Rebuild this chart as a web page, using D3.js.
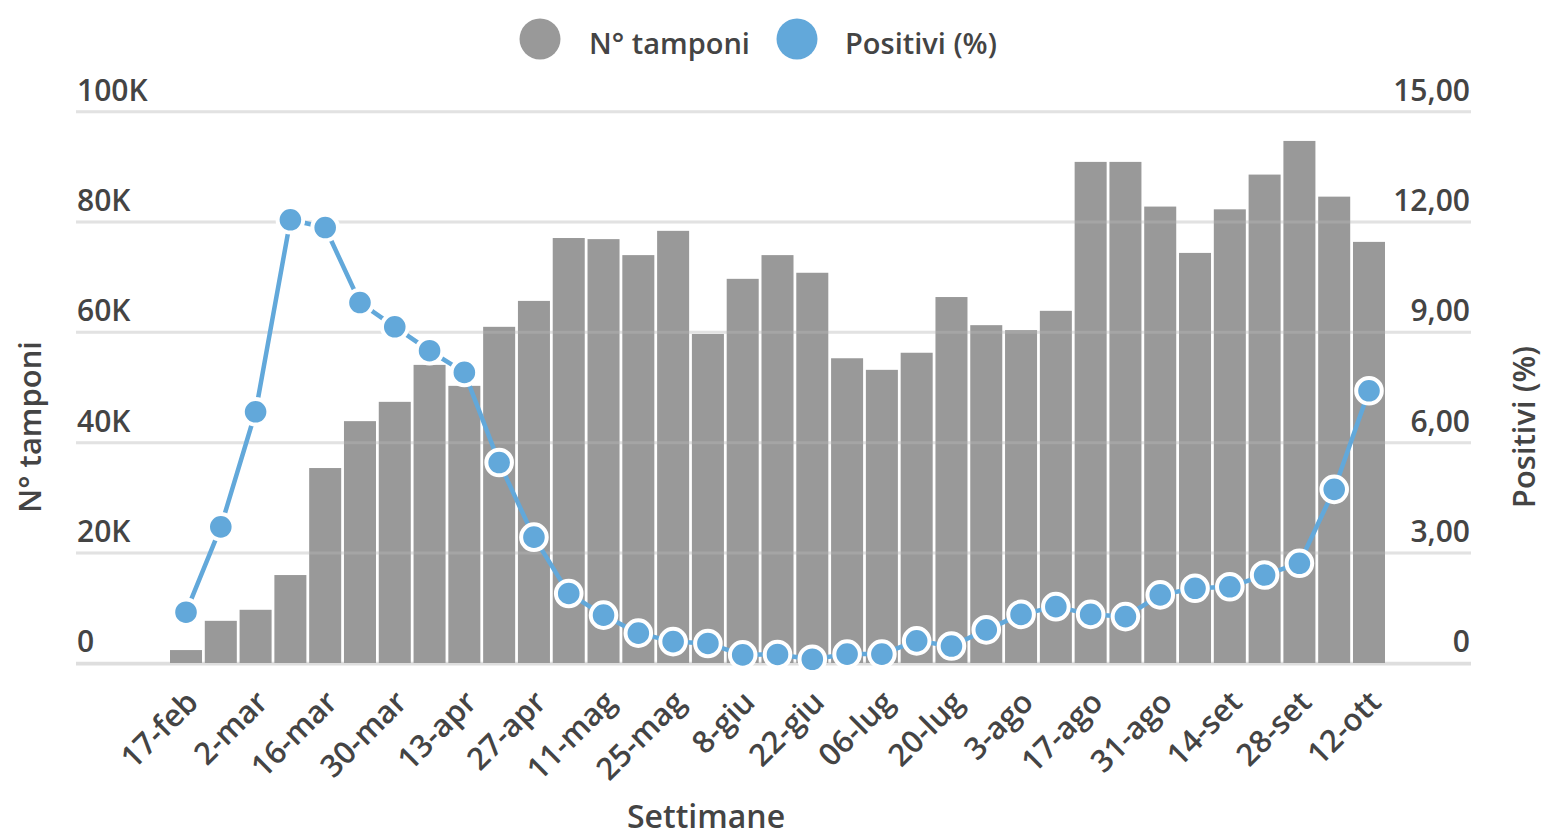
<!DOCTYPE html>
<html>
<head>
<meta charset="utf-8">
<script src="https://cdn.jsdelivr.net/npm/d3@7"></script>
<style>
  html, body { margin: 0; padding: 0; background: #fff; }
  svg text { font-family: "Open Sans", "Noto Sans", sans-serif; font-weight: 600; fill: #444; }
</style>
</head>
<body>
<svg id="chart" width="1558" height="839"></svg>
<script>
// ---- data ----
const weeks = ["17-feb","24-feb","2-mar","9-mar","16-mar","23-mar","30-mar","6-apr","13-apr","20-apr",
  "27-apr","4-mag","11-mag","18-mag","25-mag","1-giu","8-giu","15-giu","22-giu","29-giu",
  "06-lug","13-lug","20-lug","27-lug","3-ago","10-ago","17-ago","24-ago","31-ago","7-set",
  "14-set","21-set","28-set","5-ott","12-ott"];
const tamponi = [2400,7700,9700,16000,35400,43900,47400,54100,50300,61000,
  65700,77100,76900,74000,78400,59700,69700,74000,70800,55300,
  53200,56300,66400,61300,60400,63900,90900,90900,82800,74400,
  82300,88600,94700,84600,76400];
const positivi = [1.39,3.71,6.84,12.06,11.85,9.81,9.15,8.50,7.91,5.46,
  3.43,1.90,1.31,0.82,0.59,0.54,0.23,0.24,0.11,0.25,
  0.25,0.61,0.47,0.91,1.33,1.54,1.33,1.27,1.86,2.04,
  2.08,2.40,2.72,4.73,7.41];
const leftTicks = [0,20000,40000,60000,80000,100000];
const leftTickLabels = ["0","20K","40K","60K","80K","100K"];
const rightTicks = [0,3,6,9,12,15];
const rightTickLabels = ["0","3,00","6,00","9,00","12,00","15,00"];
const seriesNames = ["N° tamponi","Positivi (%)"];
const titles = {x: "Settimane", yLeft: "N° tamponi", yRight: "Positivi (%)"};

// ---- layout ----
const W = 1558, H = 839;
const gridX0 = 76, gridX1 = 1471;
const yTop = 111.7, yBottom = 663.3;
const barColor = "#999999", lineColor = "#62a8da", gridColor = "#dedede";

const svg = d3.select("#chart");

const x = d3.scaleBand().domain(weeks).range([170, 1385]).paddingInner(0.08).paddingOuter(0);
const yL = d3.scaleLinear().domain([0, 100000]).range([yBottom, yTop]);
const yR = d3.scaleLinear().domain([0, 15]).range([yBottom, yTop]);

// gridlines (under bars)
const grid = svg.append("g");
grid.selectAll("line").data(leftTicks).join("line")
  .attr("x1", gridX0).attr("x2", gridX1)
  .attr("y1", d => yL(d)).attr("y2", d => yL(d))
  .attr("stroke", gridColor).attr("stroke-width", 3);

// bars
svg.append("g").selectAll("rect").data(weeks).join("rect")
  .attr("x", d => x(d))
  .attr("width", x.bandwidth())
  .attr("y", (d, i) => yL(tamponi[i]))
  .attr("height", (d, i) => yBottom - yL(tamponi[i]))
  .attr("fill", barColor);

// faint gridlines over bars
svg.append("g").selectAll("line").data(leftTicks.filter(d => d > 0)).join("line")
  .attr("x1", gridX0).attr("x2", gridX1)
  .attr("y1", d => yL(d)).attr("y2", d => yL(d))
  .attr("stroke", "#ffffff").attr("stroke-opacity", 0.12).attr("stroke-width", 3);
// zero line over bars
svg.append("line").attr("x1", gridX0).attr("x2", gridX1)
  .attr("y1", yL(0) + 1).attr("y2", yL(0) + 1)
  .attr("stroke", gridColor).attr("stroke-width", 2.5);

// left tick labels
svg.append("g").selectAll("text").data(leftTicks).join("text")
  .attr("x", gridX0 + 1).attr("y", d => yL(d) - 11)
  .attr("font-size", 30).attr("text-anchor", "start")
  .text((d, i) => leftTickLabels[i]);
// right tick labels
svg.append("g").selectAll("text").data(rightTicks).join("text")
  .attr("x", gridX1 - 1).attr("y", d => yR(d) - 11)
  .attr("font-size", 30).attr("text-anchor", "end")
  .text((d, i) => rightTickLabels[i]);

// line
const cx = d => x(d) + x.bandwidth() / 2;
const line = d3.line().x((d, i) => cx(weeks[i])).y(d => yR(d));
svg.append("path").datum(positivi)
  .attr("d", line).attr("fill", "none")
  .attr("stroke", lineColor).attr("stroke-width", 4.5).attr("stroke-linejoin", "round");
svg.append("g").selectAll("circle").data(positivi).join("circle")
  .attr("cx", (d, i) => cx(weeks[i])).attr("cy", d => yR(d))
  .attr("r", 12.8).attr("fill", lineColor)
  .attr("stroke", "#fff").attr("stroke-width", 4);

// x tick labels (every other week)
svg.append("g").selectAll("text").data(weeks.filter((d, i) => i % 2 === 0)).join("text")
  .attr("transform", d => `translate(${cx(d) + 14},${704}) rotate(-45)`)
  .attr("font-size", 31).attr("text-anchor", "end")
  .text(d => d);

// axis titles
svg.append("text").attr("x", 706).attr("y", 828).attr("text-anchor", "middle")
  .attr("font-size", 32).text(titles.x);
svg.append("text").attr("transform", "translate(41,427) rotate(-90)")
  .attr("text-anchor", "middle").attr("font-size", 31).text(titles.yLeft);
svg.append("text").attr("transform", "translate(1535,427) rotate(-90)")
  .attr("text-anchor", "middle").attr("font-size", 31).text(titles.yRight);

// legend
const legend = [{name: seriesNames[0], color: barColor, cx: 540, tx: 589},
                {name: seriesNames[1], color: lineColor, cx: 797, tx: 845}];
const lg = svg.append("g").selectAll("g").data(legend).join("g");
lg.append("circle").attr("cx", d => d.cx).attr("cy", 39).attr("r", 20.5).attr("fill", d => d.color);
lg.append("text").attr("x", d => d.tx).attr("y", 54).attr("font-size", 29).text(d => d.name);
</script>
</body>
</html>
